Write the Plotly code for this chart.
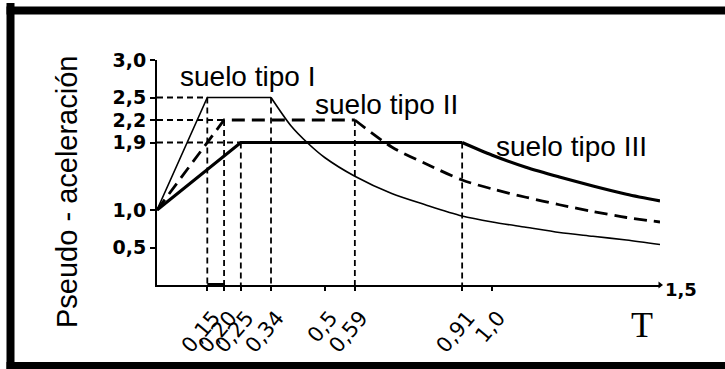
import plotly.graph_objects as go

# ---------------- data ----------------
soil_names = ["suelo tipo I", "suelo tipo II", "suelo tipo III"]
a_zero = 1.0
t_start = [0.15, 0.20, 0.25]        # end of rising branch
t_end = [0.34, 0.59, 0.91]          # end of plateau
plateau = [2.5, 2.2, 1.9]           # plateau value

t_decay_I = [0.34, 0.40, 0.45, 0.50, 0.59, 0.70, 0.80, 0.91, 1.00, 1.10, 1.20, 1.30, 1.40, 1.50]
sa_decay_I = [2.50, 2.12, 1.89, 1.70, 1.45, 1.22, 1.07, 0.92, 0.84, 0.77, 0.70, 0.65, 0.60, 0.54]
t_decay_II = [0.59, 0.70, 0.80, 0.91, 1.00, 1.10, 1.20, 1.30, 1.40, 1.50]
sa_decay_II = [2.20, 1.84, 1.62, 1.40, 1.28, 1.17, 1.07, 0.98, 0.90, 0.84]
t_decay_III = [0.91, 1.00, 1.10, 1.20, 1.30, 1.40, 1.50]
sa_decay_III = [1.90, 1.73, 1.57, 1.44, 1.32, 1.21, 1.12]

x_tickvals = [0.15, 0.20, 0.25, 0.34, 0.5, 0.59, 0.91, 1.0]
x_ticktext = ["0,15", "0,20", "0,25", "0,34", "0,5", "0,59", "0,91", "1,0"]
y_tickvals = [0.5, 1.0, 1.9, 2.2, 2.5, 3.0]
y_ticktext = ["0,5", "1,0", "1,9", "2,2", "2,5", "3,0"]
t_max = 1.5
t_max_label = "1,5"
y_title = "Pseudo - aceleración"
x_title = "T"

decays_t = [t_decay_I, t_decay_II, t_decay_III]
decays_sa = [sa_decay_I, sa_decay_II, sa_decay_III]

# ---------------- layout geometry (screen pixels) ----------------
W, H = 725, 369
# plot area: x 157..660, y 60..285
L, R, T, B = 157, W - 660, 60, H - 285
PW, PH = W - L - R, H - T - B


def px(xs):
    return (xs - L) / PW


def py(ys):
    return (H - B - ys) / PH


styles = [
    dict(color="black", width=1.6, dash="solid"),
    dict(color="black", width=2.8, dash="13px,7px"),
    dict(color="black", width=3.2, dash="solid"),
]
ref_dash = dict(color="black", width=1.8, dash="6px,4px")

fig = go.Figure()

# reference dashed lines (horizontal to axis and vertical to axis)
for ts, te, p in zip(t_start, t_end, plateau):
    fig.add_trace(go.Scatter(x=[0, ts], y=[p, p], mode="lines", line=ref_dash,
                             hoverinfo="skip", showlegend=False))
    for tv in (ts, te):
        fig.add_trace(go.Scatter(x=[tv, tv], y=[p, 0], mode="lines", line=ref_dash,
                                 hoverinfo="skip", showlegend=False))

# spectra
for i in range(3):
    st = styles[i]
    fig.add_trace(go.Scatter(x=[0, t_start[i], t_end[i]],
                             y=[a_zero, plateau[i], plateau[i]],
                             mode="lines", line=st, showlegend=False,
                             name=soil_names[i], cliponaxis=False))
    fig.add_trace(go.Scatter(x=decays_t[i], y=decays_sa[i], mode="lines",
                             line=dict(**st, shape="spline", smoothing=0.8),
                             showlegend=False, name=soil_names[i], cliponaxis=False))

# thick part of the T axis between first corner periods
fig.add_trace(go.Scatter(x=[t_start[0], t_start[1]], y=[0, 0], mode="lines",
                         line=dict(color="black", width=4), hoverinfo="skip",
                         showlegend=False, cliponaxis=False))
# arrow head at end of T axis
fig.add_trace(go.Scatter(x=[t_max], y=[0], mode="markers",
                         marker=dict(symbol="triangle-right", size=6, color="black"),
                         hoverinfo="skip", showlegend=False, cliponaxis=False))

fig.update_xaxes(range=[0, t_max], showline=True, linecolor="black", linewidth=2,
                 showgrid=False, zeroline=False, ticks="outside", ticklen=4,
                 tickwidth=1.5, tickcolor="black",
                 tickvals=x_tickvals, ticktext=x_ticktext, tickangle=-50,
                 ticklabelstandoff=6, ticklabelshift=6,
                 tickfont=dict(family="DejaVu Sans", size=21, color="black"))
fig.update_yaxes(range=[0, 3.0], showline=True, linecolor="black", linewidth=2,
                 showgrid=False, zeroline=False, ticks="outside", ticklen=5,
                 tickwidth=1.5, tickcolor="black",
                 tickvals=y_tickvals, ticktext=y_ticktext,
                 tickfont=dict(family="DejaVu Sans", size=19, color="black", weight="bold"))

label_font = dict(family="Liberation Sans, Arial, sans-serif", size=28, color="black")
annotations = [
    dict(x=px(178), y=py(76), text=soil_names[0], xanchor="left", yanchor="middle", font=label_font),
    dict(x=px(313), y=py(104), text=soil_names[1], xanchor="left", yanchor="middle", font=label_font),
    dict(x=px(494), y=py(146), text=soil_names[2], xanchor="left", yanchor="middle", font=label_font),
    dict(x=px(67), y=py(192), text=y_title, textangle=-90, xanchor="center", yanchor="middle",
         font=dict(family="Liberation Sans, Arial, sans-serif", size=29, color="black")),
    dict(x=px(642), y=py(325), text=x_title, xanchor="center", yanchor="middle",
         font=dict(family="Liberation Serif, Times New Roman, serif", size=36, color="black")),
    dict(x=px(681), y=py(289), text=t_max_label, xanchor="center", yanchor="middle",
         font=dict(family="DejaVu Sans", size=18, color="black", weight="bold")),
]
for a in annotations:
    a.update(xref="paper", yref="paper", showarrow=False)

# frame: left, top and bottom borders (right border lies outside the picture)
border = dict(color="black", width=8)
frame = [
    dict(type="line", xref="paper", yref="paper", x0=px(10.5), x1=px(10.5),
         y0=py(3), y1=py(380), line=border, layer="above"),
    dict(type="line", xref="paper", yref="paper", x0=px(6.5), x1=px(800),
         y0=py(10.5), y1=py(10.5), line=border, layer="above"),
    dict(type="line", xref="paper", yref="paper", x0=px(6.5), x1=px(800),
         y0=py(366), y1=py(366), line=border, layer="above"),
]

fig.update_layout(width=W, height=H, margin=dict(l=L, r=R, t=T, b=B),
                  paper_bgcolor="white", plot_bgcolor="white",
                  annotations=annotations, shapes=frame, showlegend=False)

fig.write_html("out.html", config={"displayModeBar": False},
               post_script="document.body.style.margin='0px';document.body.style.overflow='hidden';")
